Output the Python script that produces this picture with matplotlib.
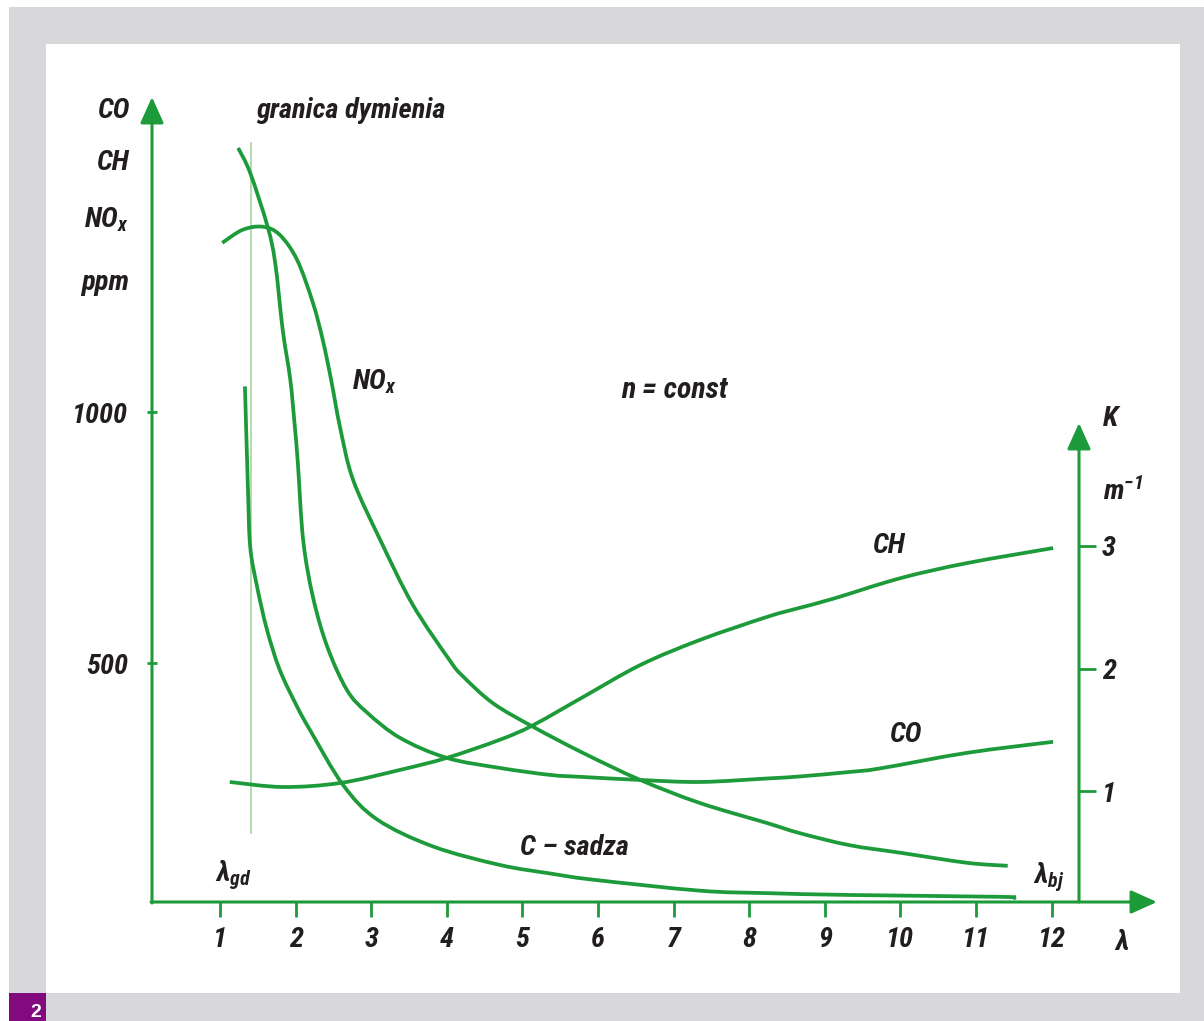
import matplotlib
matplotlib.use("Agg")
import matplotlib.pyplot as plt
import matplotlib.font_manager as fm
from matplotlib.patches import Rectangle, PathPatch
from matplotlib.path import Path
import numpy as np

# ---------------- data ----------------
lam_ticks = [1, 2, 3, 4, 5, 6, 7, 8, 9, 10, 11, 12]
ppm_ticks = [500, 1000]
k_ticks = [1, 2, 3]

co_lam = [1.24, 1.40, 1.63, 1.73, 1.83, 1.93, 1.99, 2.03, 2.10, 2.23, 2.42, 2.68, 2.94,
          3.38, 4.00, 4.70, 5.37, 5.80, 6.56, 7.35, 8.24, 8.67, 9.33, 9.73, 10.88, 12.02]
co_ppm = [1526, 1476, 1369, 1297, 1163, 1064, 970, 898, 745, 631, 532, 446, 402,
          351, 311, 291, 277, 273, 267, 263, 270, 274, 283, 290, 321, 343]

nox_lam = [1.03, 1.30, 1.57, 1.79, 2.02, 2.23, 2.36, 2.47, 2.59, 2.76, 3.12, 3.55, 4.04,
           4.21, 4.61, 5.14, 5.80, 6.56, 7.35, 8.24, 8.67, 9.33, 10.00, 10.88, 11.42]
nox_ppm = [1337, 1363, 1369, 1353, 1303, 1217, 1143, 1064, 968, 865, 745, 616, 505,
           474, 420, 373, 321, 267, 221, 181, 161, 137, 122, 102, 96]

ch_lam = [1.13, 1.83, 2.59, 3.38, 4.00, 4.70, 5.14, 5.80, 6.56, 7.35, 8.24, 8.67,
          9.11, 10.00, 10.88, 12.02]
ch_ppm = [263, 253, 261, 287, 311, 347, 376, 432, 496, 546, 592, 610,
          628, 669, 699, 729]

soot_lam = [1.33, 1.37, 1.40, 1.49, 1.62, 1.79, 2.02, 2.19, 2.63, 3.08, 3.82, 4.70,
            5.37, 5.93, 7.35, 8.24, 9.33, 11.32, 11.49]
soot_k = [4.30, 3.46, 2.99, 2.67, 2.32, 1.99, 1.69, 1.50, 1.05, 0.77, 0.55, 0.40,
          0.33, 0.28, 0.19, 0.17, 0.155, 0.14, 0.13]

smoke_lam = 1.41
smoke_ppm = [161, 1536]

# ---------------- fonts ----------------
def has_font(name):
    try:
        fm.findfont(fm.FontProperties(family=name), fallback_to_default=False)
        return True
    except Exception:
        return False

FAM, FS = "Liberation Sans", 18
for cand, size in [("Liberation Sans Narrow", 21), ("Roboto Condensed", 20.5)]:
    if has_font(cand):
        FAM, FS = cand, size
        break

WEIGHT = "bold"
plt.rcParams["font.family"] = [FAM, "DejaVu Sans"]
plt.rcParams["font.style"] = "italic"
plt.rcParams["font.weight"] = WEIGHT
plt.rcParams["mathtext.fontset"] = "custom"
plt.rcParams["mathtext.it"] = FAM + ":italic:bold"
plt.rcParams["mathtext.rm"] = FAM + ":italic:bold"
plt.rcParams["mathtext.default"] = "it"

GREEN = "#1d9b3a"
LIGHT = "#a6d6a0"
INK = "#221e1f"
GREY = "#d8d8da"

W, H = 1204, 1021
fig = plt.figure(figsize=(W / 100, H / 100), dpi=100, facecolor=GREY)

# page framing
fig.patches.append(Rectangle((0, 0), 9 / W, 1, transform=fig.transFigure,
                             facecolor="white", edgecolor="none", zorder=-5))
fig.patches.append(Rectangle((0, 1 - 7 / H), 1, 7 / H, transform=fig.transFigure,
                             facecolor="white", edgecolor="none", zorder=-5))
fig.patches.append(Rectangle((46 / W, 1 - 993 / H), (1180 - 46) / W, (993 - 44) / H,
                             transform=fig.transFigure, facecolor="white",
                             edgecolor="none", zorder=-4))
fig.patches.append(Rectangle((9 / W, 0), 37 / W, 28 / H, transform=fig.transFigure,
                             facecolor="#800a7e", edgecolor="none", zorder=-3))
fig.text(36 / W, 1 - 1004 / H, "2", color="white", fontsize=14, fontweight="bold",
         style="normal", family="Liberation Sans", ha="center", va="top")

# pixel -> data helpers (layout only)
def lam_at(px):
    return 1 + (px - 220) / 75.6

def ppm_at(py):
    return (914 - py) / 0.502

PPM_PER_K = 122.7 / 0.502

ax = fig.add_axes([152 / W, 1 - 902 / H, (1160 - 152) / W, (902 - 90) / H])
ax.set_facecolor("none")
ax.set_xlim(lam_at(152), lam_at(1160))
ax.set_ylim(ppm_at(902), ppm_at(90))
ax2 = ax.twinx()
ax2.set_ylim(ppm_at(902) / PPM_PER_K, ppm_at(90) / PPM_PER_K)

for a in (ax, ax2):
    for s in a.spines.values():
        s.set_visible(False)

x_right_axis = lam_at(1079)
ax2.spines["right"].set_position(("data", x_right_axis))

# ticks
ax.set_xticks(lam_ticks)
ax.set_xticklabels([str(t) for t in lam_ticks])
ax.set_yticks(ppm_ticks)
ax.set_yticklabels([str(t) for t in ppm_ticks])
ax2.set_yticks(k_ticks)
ax2.set_yticklabels([str(t) for t in k_ticks])
ax.tick_params(axis="x", direction="out", length=10.5, width=2, color=GREEN,
               pad=7, labelsize=FS, labelcolor=INK)
ax.tick_params(axis="y", direction="inout", length=7, width=2, color=GREEN,
               pad=13.5, labelsize=FS, labelcolor=INK)
ax2.tick_params(axis="y", direction="out", length=12.5, width=2, color=GREEN,
                pad=4, labelsize=FS, labelcolor=INK)

# axes with arrows
arrow = dict(arrowstyle="-|>,head_length=0.8,head_width=0.36", mutation_scale=20,
             color=GREEN, lw=2.2, shrinkA=0, shrinkB=0)
ax.annotate("", xy=(lam_at(152), ppm_at(97)), xytext=(lam_at(152), ppm_at(903)),
            arrowprops=arrow, annotation_clip=False)
ax.annotate("", xy=(lam_at(1157), ppm_at(902)), xytext=(lam_at(151), ppm_at(902)),
            arrowprops=arrow, annotation_clip=False)
ax2.annotate("", xy=(x_right_axis, ppm_at(423) / PPM_PER_K),
             xytext=(x_right_axis, ppm_at(902) / PPM_PER_K),
             arrowprops=arrow, annotation_clip=False)


# smooth hand-drawn style curve through the read points (Catmull-Rom as Bezier path)
def smooth_path(xs, ys, axis):
    pts = axis.transData.transform(np.column_stack([xs, ys]))
    n = len(pts)
    verts = [pts[0]]
    codes = [Path.MOVETO]
    for i in range(n - 1):
        p0 = pts[i - 1] if i > 0 else pts[i]
        p1 = pts[i]
        p2 = pts[i + 1]
        p3 = pts[i + 2] if i + 2 < n else pts[i + 1]
        c1 = p1 + (p2 - p0) / 6.0
        c2 = p2 - (p3 - p1) / 6.0
        verts += [c1, c2, p2]
        codes += [Path.CURVE4] * 3
    verts = axis.transData.inverted().transform(np.array(verts))
    return Path(verts, codes)


lw = 2.7
ax.plot([smoke_lam, smoke_lam], smoke_ppm, color=LIGHT, lw=1.2, zorder=1)
for xs, ys, a in [(co_lam, co_ppm, ax), (nox_lam, nox_ppm, ax), (ch_lam, ch_ppm, ax),
                  (soot_lam, soot_k, ax2)]:
    a.add_patch(PathPatch(smooth_path(xs, ys, a), facecolor="none", edgecolor=GREEN,
                          lw=lw, capstyle="butt", zorder=3, clip_on=False))

# texts
def ftext(x, y, s, ha="left", va="center", **kw):
    fig.text(x / W, 1 - y / H, s, ha=ha, va=va, color=INK, fontsize=kw.pop("fs", FS), **kw)

ftext(129, 110, "CO", ha="right")
ftext(129, 163, "CH", ha="right")
ftext(129, 220, "NO$_x$", ha="right")
ftext(129, 283, "ppm", ha="right")
ftext(256, 110, "granica dymienia")
ftext(352, 382, "NO$_x$")
ftext(674, 390, "n = const", ha="center", fs=FS + 1)
ftext(1103, 418, "K")
ftext(1103, 492, "m$^{-1}$")
ftext(888, 545, "CH", ha="center")
ftext(905, 735, "CO", ha="center")
ftext(520, 847, "C \u2013 sadza")
ftext(215, 875, "\u03bb$_{gd}$")
ftext(1033, 877, "\u03bb$_{bj}$")
ftext(1122, 943, "\u03bb", ha="center")

fig.savefig("out.png", dpi=100, facecolor=GREY)
